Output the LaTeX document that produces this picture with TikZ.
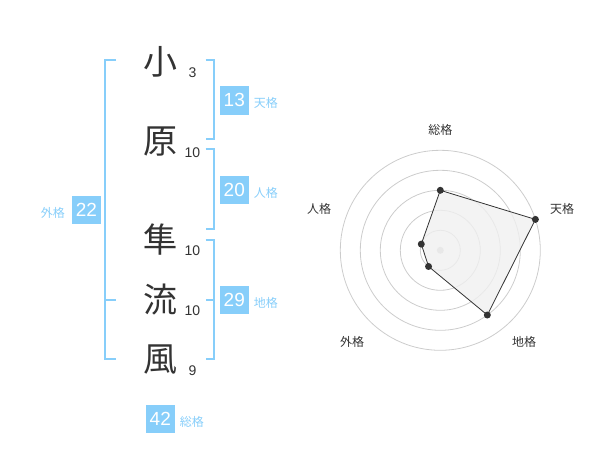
\documentclass[tikz,border=0pt]{standalone}
\usepackage{fontspec}
\setmainfont{Liberation Sans}
\newfontfamily\jp{Noto Sans CJK JP}
\usetikzlibrary{positioning}
\definecolor{sky}{HTML}{87CEFA}
\definecolor{ink}{HTML}{333333}
\tikzstyle{kanji}=[font=\jp\fontsize{34}{34}\selectfont, text=ink, inner sep=0pt]
\tikzstyle{strokes}=[font=\fontsize{14}{14}\selectfont, text=ink, inner sep=0pt]
\tikzstyle{numbox}=[fill=sky, text=white, minimum size=28.5pt, inner sep=0pt,
	font=\fontsize{19}{19}\selectfont]
\tikzstyle{kaku}=[font=\jp\fontsize{12}{12}\selectfont, text=sky, inner sep=0pt, yshift=-3pt]
\tikzstyle{bracket}=[draw=sky, line width=2pt]
\tikzstyle{axis}=[font=\jp\fontsize{12}{12}\selectfont, text=ink, inner sep=0pt]

\begin{document}
\begin{tikzpicture}[x=1pt, y=-1pt]
	% Background, frame
	\useasboundingbox (0,0) rectangle (600,470);

	% Name and stroke counts
	\foreach \ch/\y/\n/\id in {小/62/3/a, 原/142/10/b, 隼/240/10/c, 流/300/10/d, 風/360/9/e} {
		\node[kanji] (k\id) at (160,\y) {\ch};
		\node[strokes] (s\id) at (192.5,\y+11) {\n};
	}

	% Brackets
	\draw[bracket] (116,60) -| (104.7,359.3) -- (116,359.3);
	\draw[bracket] (104.7,300) -- (116,300);
	\foreach \top/\bot in {60/139.3, 149.3/229.3, 240/359.3} {
		\draw[bracket] (205.7,\top) -| (214.3,\bot) -- (205.7,\bot);
	}
	\draw[bracket] (214.3,300) -- (205.7,300);

	% Scores
	\node[numbox] (ten) at (234.3,100.3) {13};
	\node[kaku, right=5pt of ten] (tenl) {天格};
	\node[numbox] (jin) at (234.3,190) {20};
	\node[kaku, right=5pt of jin] (jinl) {人格};
	\node[numbox] (chi) at (234.3,300) {29};
	\node[kaku, right=5pt of chi] (chil) {地格};
	\node[numbox] (gai) at (86.5,210) {22};
	\node[kaku, left=7pt of gai] (gail) {外格};
	\node[numbox] (sou) at (160.3,419) {42};
	\node[kaku, right=5pt of sou] (soul) {総格};

	% Radar
	\begin{scope}[shift={(440.3,250.3)}, y=1pt]
		\foreach \r in {20,40,60,80,100} {
			\draw[black!20, line width=0.8pt] (0,0) circle (\r);
		}
		\fill[black!20] (0,0) circle (3.5);
		\draw[ink, fill=black!6, fill opacity=0.8, line width=0.8pt]
			(90:60) coordinate (psou) -- (18:100) coordinate (pten)
			-- (-54:80) coordinate (pchi) -- (-126:20) coordinate (pgai)
			-- (162:20) coordinate (pjin) -- cycle;
		\foreach \p in {psou, pten, pchi, pgai, pjin} {
			\fill[ink] (\p) circle (3.5);
		}
		\foreach \x/\y/\t/\id in {0/120/総格/asou, 121.7/41.3/天格/aten, 83.7/-91.7/地格/achi,
			-88.3/-91.7/外格/agai, -121.3/41.3/人格/ajin} {
			\node[axis] (\id) at (\x,\y) {\t};
		}
	\end{scope}
\end{tikzpicture}
\end{document}
